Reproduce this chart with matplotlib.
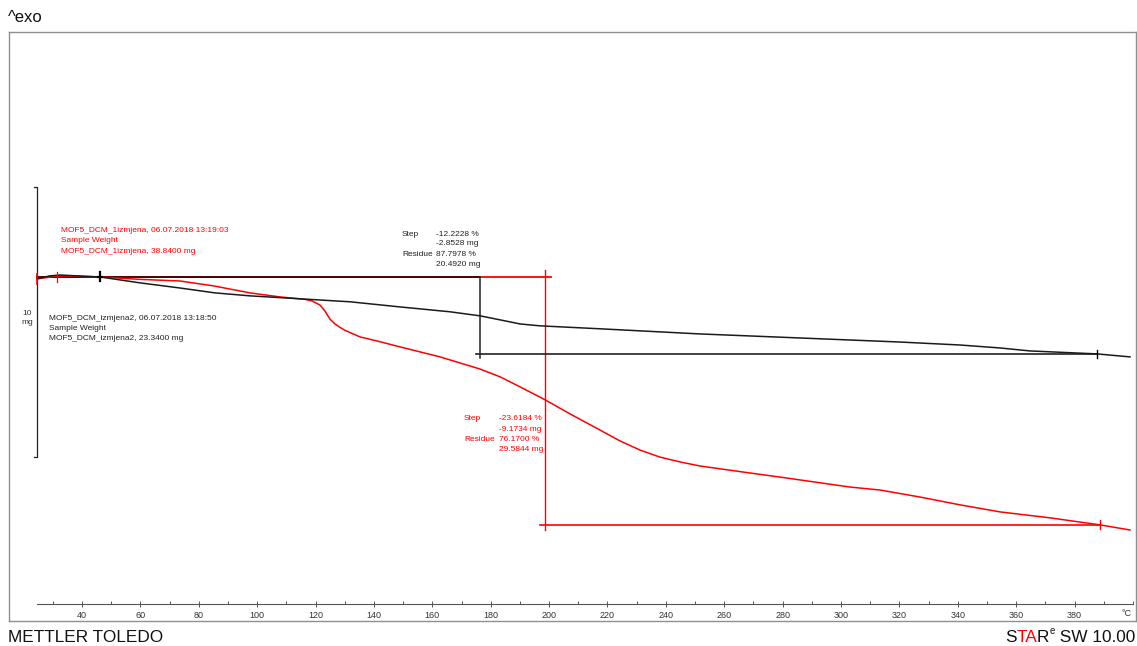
import matplotlib
matplotlib.use('Agg')
import matplotlib.pyplot as plt
from matplotlib.ticker import FixedLocator, MultipleLocator

plt.rcParams['font.family'] = ['Liberation Sans', 'DejaVu Sans']

# MOF5_DCM_1izmjena (red), weight in mg vs temperature in degC
red_T = [24.6, 32.5, 46.2, 59.9, 73.6, 85.5, 97.5, 107.8, 116.4, 118.8, 121.5,
         123.2, 124.9, 126.6, 128.4, 130.1, 135.2, 142.1, 148.9, 162.6, 176.3, 183.2,
         190.0, 198.6, 207.1, 217.4, 224.2, 231.1, 237.9, 244.8, 251.6, 268.8, 279.0,
         303.0, 313.3, 327.0, 340.7, 354.4, 371.5, 388.6, 398.9]
red_w = [38.77, 38.88, 38.84, 38.75, 38.69, 38.50, 38.25, 38.10, 38.01, 37.95, 37.80,
         37.58, 37.28, 37.10, 36.97, 36.86, 36.62, 36.44, 36.25, 35.88, 35.43, 35.14,
         34.77, 34.29, 33.77, 33.17, 32.77, 32.43, 32.17, 31.99, 31.84, 31.58, 31.43,
         31.06, 30.95, 30.69, 30.40, 30.14, 29.92, 29.66, 29.47]

# MOF5_DCM_izmjena2 (black)
black_T = [24.6, 29.0, 32.5, 46.2, 59.9, 73.6, 85.5, 97.5, 114.7, 131.8, 148.9,
           166.0, 176.3, 183.2, 190.0, 196.8, 217.4, 251.6, 285.9, 320.1, 340.7,
           354.4, 364.7, 387.6, 398.9]
black_w = [23.27, 23.38, 23.41, 23.34, 23.12, 22.93, 22.75, 22.64, 22.53, 22.42, 22.23,
           22.05, 21.90, 21.75, 21.60, 21.53, 21.42, 21.23, 21.08, 20.93, 20.82,
           20.71, 20.60, 20.49, 20.38]

red_sample = 38.84
black_sample = 23.34
red_step_mg = -9.1734
black_step_mg = -2.8528
red_step_T = 198.6       # vertical step line
black_step_T = 176.3
red_limits = (31.4, 388.6)
black_limits = (46.2, 387.6)

W, H = 1137, 646
fig = plt.figure(figsize=(W / 100, H / 100), dpi=100)


def px(x, y):
    return x / W, 1 - y / H


ax = fig.add_axes([9 / W, 1 - 621 / H, (1136 - 9) / W, (621 - 32) / H])
ax.set_xlim(15.0, 400.96)
ax.set_ylim(-12.74, 9.07)
ax.set_xticks([])
ax.set_yticks([])
for s in ax.spines.values():
    s.set_color('#8f8f8f')
    s.set_linewidth(1.0)

red_d = [w - red_sample for w in red_w]
black_d = [w - black_sample for w in black_w]

# step lines
ax.plot([24.6, 200.7], [0, 0], color='red', lw=1.3)
ax.plot([red_step_T, red_step_T], [0.26, -9.37], color='red', lw=1.0)
ax.plot([196.8, red_limits[1]], [red_step_mg, red_step_mg], color='red', lw=1.2)
ax.plot([24.6, black_step_T], [0, 0], color='#2a0000', lw=1.3, alpha=0.9)
ax.plot([black_step_T, black_step_T], [0, -3.0], color='#222222', lw=1.1)
ax.plot([175.0, black_limits[1]], [black_step_mg, black_step_mg], color='#222222', lw=1.2)

# curves
ax.plot(red_T, red_d, color='red', lw=1.1, zorder=3)
ax.plot(black_T, black_d, color='#1a1a1a', lw=1.1, zorder=4)

# limit markers
ax.plot([24.6, 24.6], [0.11, -0.26], color='red', lw=1.2, zorder=5)
ax.plot([red_limits[0]] * 2, [0.17, -0.17], color='red', lw=0.9, zorder=5)
ax.plot([black_limits[0]] * 2, [0.2, -0.15], color='black', lw=1.6, zorder=5)
ax.plot([black_limits[0] - 0.8, black_limits[0] + 0.8], [0.0, 0.0], color='black', lw=1.6, zorder=5)
ax.plot([black_limits[1]] * 2, [black_step_mg + 0.15, black_step_mg - 0.15], color='black', lw=1.0, zorder=5)
ax.plot([red_limits[1]] * 2, [red_step_mg + 0.17, red_step_mg - 0.17], color='red', lw=1.0, zorder=5)

# 10 mg scale bar
ax.plot([23.6, 24.6, 24.6, 23.6], [3.33, 3.33, -6.67, -6.67], color='#222222', lw=0.9)
fig.text(*px(27, 318), '10\nmg', fontsize=6, ha='center', va='center', linespacing=1.3, color='#333333')

# x axis
axx = fig.add_axes([37 / W, 1 - 604 / H, (1133 - 37) / W, 0.0001])
axx.set_xlim(24.6, 400)
axx.patch.set_visible(False)
for k in ['top', 'left', 'right']:
    axx.spines[k].set_visible(False)
axx.spines['bottom'].set_color('#555555')
axx.spines['bottom'].set_linewidth(0.8)
axx.set_yticks([])
maj = list(range(40, 381, 20))
axx.xaxis.set_major_locator(FixedLocator(maj))
axx.set_xticklabels([str(t) for t in maj], fontsize=6.5, color='#333333')
axx.xaxis.set_minor_locator(MultipleLocator(10))
axx.tick_params(axis='x', which='major', direction='inout', length=4, width=0.7, color='#555555', pad=3)
axx.tick_params(axis='x', which='minor', direction='in', length=2, width=0.7, color='#555555')
fig.text(*px(1127, 614), '°C', fontsize=6.5, color='#333333', ha='center', va='center')

# curve labels
fs = 6
for i, s in enumerate(['MOF5_DCM_1izmjena, 06.07.2018 13:19:03', 'Sample Weight',
                       'MOF5_DCM_1izmjena, %.4f mg' % red_sample]):
    fig.text(*px(61, 231 + 10 * i), s, fontsize=fs, color='red', va='center')
for i, s in enumerate(['MOF5_DCM_izmjena2, 06.07.2018 13:18:50', 'Sample Weight',
                       'MOF5_DCM_izmjena2, %.4f mg' % black_sample]):
    fig.text(*px(49, 318 + 10 * i), s, fontsize=fs, color='#222222', va='center')

# step annotations
blk = [('Step', '%.4f %%' % -12.2228), ('', '%.4f mg' % black_step_mg),
       ('Residue', '%.4f %%' % 87.7978), ('', '%.4f mg' % 20.4920)]
for i, (a, b) in enumerate(blk):
    fig.text(*px(402, 234 + 10 * i), a, fontsize=fs, color='#222222', va='center')
    fig.text(*px(436, 234 + 10 * i), b, fontsize=fs, color='#222222', va='center')
rd = [('Step', '%.4f %%' % -23.6184), ('', '%.4f mg' % red_step_mg),
      ('Residue', '%.4f %%' % 76.1700), ('', '%.4f mg' % 29.5844)]
for i, (a, b) in enumerate(rd):
    fig.text(*px(464, 419 + 10.3 * i), a, fontsize=fs, color='red', va='center')
    fig.text(*px(499, 419 + 10.3 * i), b, fontsize=fs, color='red', va='center')

# header / footer
fig.text(*px(8, 18), '^exo', fontsize=12, color='#111111', va='center')
fig.text(*px(8, 637), 'METTLER TOLEDO', fontsize=12.4, color='#111111', va='center')

r = fig.canvas.get_renderer()
x1 = 1135
parts = [(' SW 10.00', '#111111', 12.4, 637), ('e', '#111111', 7, 631),
         ('R', '#111111', 12.4, 637), ('TA', 'red', 12.4, 637), ('S', '#111111', 12.4, 637)]
for s, c, f, yy in parts:
    t = fig.text(*px(x1, yy), s, fontsize=f, color=c, va='center', ha='right')
    x1 = t.get_window_extent(renderer=r).x0

fig.savefig('out.png', dpi=100)
